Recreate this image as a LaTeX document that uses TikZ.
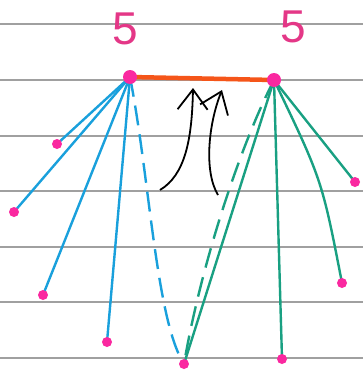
\documentclass[tikz,border=0pt]{standalone}
\usepackage{fontspec}
\setmainfont{Liberation Sans}
\usetikzlibrary{arrows.meta,backgrounds}
\definecolor{dotpink}{RGB}{250,40,160}
\definecolor{numpink}{RGB}{228,55,135}
\definecolor{lineblue}{RGB}{25,160,220}
\definecolor{lineteal}{RGB}{25,160,130}
\definecolor{edgeorange}{RGB}{245,85,25}
\definecolor{rulegray}{RGB}{160,160,160}
\begin{document}
\begin{tikzpicture}[x=1pt,y=-1pt,
  ruled/.style={draw=rulegray, line width=1.1pt},
  dot/.style={circle, fill=dotpink, inner sep=0pt, minimum size=10pt},
  hub/.style={circle, fill=dotpink, inner sep=0pt, minimum size=14pt},
  num/.style={text=numpink, font=\fontsize{46}{46}\selectfont, inner sep=0pt},
  blueline/.style={draw=lineblue, line width=2.4pt},
  tealline/.style={draw=lineteal, line width=2.4pt},
  bluedash/.style={blueline, dash pattern=on 20pt off 9pt},
  tealdash/.style={tealline, dash pattern=on 20pt off 10pt},
  topedge/.style={draw=edgeorange, line width=4.5pt},
  uparrow/.style={draw=black, line width=1.8pt, -{Straight Barb[length=20pt,width=30pt]}}
]
\useasboundingbox (0,0) rectangle (363,375);

% hubs and dots
\node[hub] (A) at (130,77) {};
\node[hub] (B) at (274,80) {};
\node[num] (fiveA) at (125,29) {5};
\node[num] (fiveB) at (293,27) {5};
\node[dot] (L1) at (57,144) {};
\node[dot] (L2) at (14,212) {};
\node[dot] (L3) at (43,295) {};
\node[dot] (L4) at (107,342) {};
\node[dot] (C) at (184,364) {};
\node[dot] (R1) at (355,182) {};
\node[dot] (R2) at (342,283) {};
\node[dot] (R3) at (282,359) {};

\coordinate (a1s) at (160,190);
\coordinate (a1e) at (193,88);
\coordinate (a2s) at (218,195);
\coordinate (a2e) at (222,90);

\begin{scope}[on background layer]
  \fill[white] (0,0) rectangle (363,375);
  \foreach \y in {24,80,136,191,247,302,358}
    \draw[ruled] (0,\y) -- (363,\y);
  \draw[topedge] (A.center) -- (B.center);
  \draw[blueline] (A.center) -- (L1.center);
  \draw[blueline] (A.center) -- (L2.center);
  \draw[blueline] (A.center) -- (L3.center);
  \draw[blueline] (A.center) -- (L4.center);
  \draw[bluedash] (A.center) .. controls (150,180) and (156,320) .. (C.center);
  \draw[tealdash] (B.center) .. controls (238,150) and (200,270) .. (C.center);
  \draw[tealline] (B.center) -- (C.center);
  \draw[tealline] (B.center) -- (R1.center);
  \draw[tealline] (B.center) .. controls (322,180) .. (R2.center);
  \draw[tealline] (B.center) -- (R3.center);
\end{scope}

\draw[uparrow] (a1s) .. controls (185,175) and (192,140) .. (a1e);
\draw[uparrow] (a2s) .. controls (204,172) and (208,125) .. (a2e);
\end{tikzpicture}
\end{document}
